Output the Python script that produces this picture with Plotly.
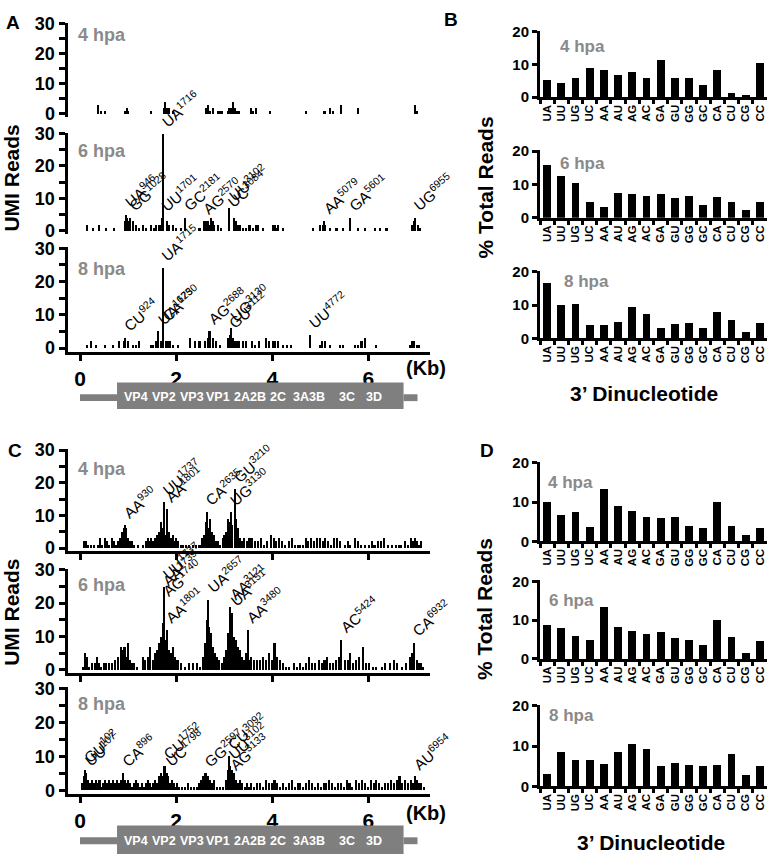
import plotly.graph_objects as go

W, H = 768, 862
FONT = "Liberation Sans, Arial, Helvetica, sans-serif"
GREY = "#8a8a8a"
BOX_GREY = "#7f7f7f"

DINUC = ["UA", "UU", "UG", "UC", "AA", "AU", "AG", "AC",
         "GA", "GU", "GG", "GC", "CA", "CU", "CG", "CC"]

# % total reads per 3' dinucleotide
B_4HPA = [5.4, 4.5, 6.1, 9.1, 8.3, 6.9, 7.7, 6.1, 11.4, 6.1, 6.1, 4.0, 8.3, 1.5, 0.8, 10.6]
B_6HPA = [15.8, 12.5, 10.4, 4.6, 3.3, 7.3, 7.0, 6.6, 7.0, 5.8, 6.6, 3.8, 6.3, 4.8, 2.2, 4.8]
B_8HPA = [16.7, 10.0, 10.3, 4.2, 4.2, 5.1, 9.4, 7.3, 3.2, 4.5, 4.7, 3.2, 7.9, 5.7, 2.1, 4.7]
D_4HPA = [10.0, 6.8, 7.5, 3.7, 13.5, 9.2, 7.9, 6.3, 6.0, 6.3, 3.9, 3.5, 10.2, 3.9, 1.8, 3.5]
D_6HPA = [8.6, 7.8, 5.8, 4.8, 13.4, 8.1, 7.1, 6.3, 6.8, 5.2, 4.9, 3.5, 9.9, 5.6, 1.5, 4.5]
D_8HPA = [3.2, 8.7, 6.6, 6.6, 5.6, 8.5, 10.5, 9.3, 5.0, 5.9, 5.4, 5.0, 5.4, 8.1, 2.8, 5.2]

# UMI reads along the genome: (position kb, reads)
A_4HPA = [
    (0.36, 3), (0.43, 1), (0.52, 1), (0.94, 1), (0.97, 2), (0.99, 1), (1.48, 1),
    (1.74, 2), (1.77, 4), (1.80, 2), (1.84, 2), (1.92, 1), (2.62, 2), (2.65, 3),
    (2.69, 1), (2.76, 2), (2.86, 1), (2.90, 1), (2.95, 1), (3.07, 1), (3.10, 2),
    (3.14, 2), (3.17, 4), (3.21, 2), (3.24, 1), (3.28, 1), (3.31, 1), (3.56, 2),
    (3.59, 1), (3.65, 2), (3.94, 1), (4.69, 1), (5.08, 1), (5.19, 2), (5.26, 1),
    (5.43, 3), (5.78, 2), (6.96, 3), (7.00, 1),
]
A_6HPA = [
    (0.15, 2), (0.27, 1), (0.38, 2), (0.53, 1), (0.71, 1), (0.94, 3), (0.97, 4),
    (1.01, 3), (1.03, 3), (1.09, 3), (1.15, 2), (1.23, 1), (1.30, 2), (1.37, 1),
    (1.47, 2), (1.54, 1), (1.58, 2), (1.63, 2), (1.68, 2), (1.80, 3), (1.85, 2),
    (1.92, 2), (1.99, 1), (2.10, 1), (2.17, 1), (2.48, 1), (2.62, 3), (2.65, 3),
    (2.69, 2), (2.72, 4), (2.76, 3), (2.79, 2), (2.86, 2), (2.93, 1), (3.19, 4),
    (3.24, 3), (3.28, 2), (3.33, 2), (3.38, 1), (3.45, 1), (3.52, 2), (3.59, 1),
    (3.66, 2), (3.69, 2), (3.80, 1), (4.01, 2), (4.05, 2), (4.08, 1), (4.11, 2),
    (4.22, 1), (4.84, 1), (4.99, 2), (5.05, 2), (5.10, 2), (5.19, 1), (5.33, 1),
    (5.47, 1), (5.78, 1), (5.92, 1), (6.13, 1), (6.23, 1), (6.37, 1), (6.90, 2),
    (6.94, 3), (7.02, 2), (7.06, 1),
]
A_8HPA = [
    (0.15, 1), (0.22, 2), (0.33, 1), (0.52, 1), (0.69, 1), (0.80, 2), (0.90, 2),
    (0.99, 2), (1.09, 1), (1.16, 1), (1.23, 2), (1.47, 1), (1.52, 1), (1.58, 2),
    (1.68, 2), (1.78, 2), (1.82, 2), (1.87, 2), (1.92, 1), (2.03, 1), (2.28, 3),
    (2.38, 2), (2.48, 2), (2.60, 2), (2.65, 3), (2.76, 3), (2.83, 2), (2.90, 1),
    (3.07, 3), (3.17, 3), (3.21, 2), (3.26, 2), (3.31, 2), (3.38, 2), (3.45, 2),
    (3.58, 2), (3.63, 1), (3.72, 2), (3.87, 3), (3.92, 2), (4.01, 2), (4.06, 2),
    (4.11, 2), (4.22, 1), (4.30, 1), (4.39, 1), (4.98, 1), (5.03, 2), (5.10, 2),
    (5.19, 1), (5.40, 1), (5.47, 1), (5.71, 1), (5.78, 1), (5.85, 2), (5.92, 3),
    (6.16, 1), (6.85, 1), (6.90, 2), (6.95, 2), (7.00, 1), (7.05, 1),
]
C_4HPA = [
    (0.08, 2), (0.12, 2), (0.16, 1), (0.22, 1), (0.28, 1), (0.36, 1), (0.42, 3),
    (0.46, 1), (0.52, 3), (0.56, 2), (0.60, 1), (0.66, 3), (0.70, 2), (0.74, 1),
    (0.78, 2), (0.82, 3), (0.86, 5), (0.90, 6), (0.96, 6), (1.00, 3), (1.04, 2),
    (1.08, 2), (1.12, 1), (1.20, 1), (1.30, 1), (1.36, 2), (1.40, 3), (1.44, 2),
    (1.48, 3), (1.52, 2), (1.56, 3), (1.60, 4), (1.64, 5), (1.68, 8), (1.72, 6),
    (1.76, 4), (1.84, 5), (1.88, 3), (1.92, 4), (1.96, 2), (2.00, 3), (2.04, 2),
    (2.10, 1), (2.14, 1), (2.20, 1), (2.26, 1), (2.34, 1), (2.40, 1), (2.48, 1),
    (2.54, 3), (2.58, 4), (2.62, 8), (2.66, 6), (2.70, 9), (2.74, 5), (2.78, 4),
    (2.82, 2), (2.86, 2), (2.90, 1), (2.96, 3), (3.00, 4), (3.04, 5), (3.08, 9),
    (3.12, 8), (3.16, 7), (3.24, 9), (3.28, 6), (3.32, 3), (3.36, 2), (3.40, 3),
    (3.46, 2), (3.52, 3), (3.58, 3), (3.64, 2), (3.70, 2), (3.76, 3), (3.82, 1),
    (3.88, 2), (3.96, 4), (4.02, 3), (4.08, 2), (4.14, 3), (4.20, 2), (4.26, 1),
    (4.34, 2), (4.40, 3), (4.46, 1), (4.52, 1), (4.58, 1), (4.64, 1), (4.70, 3),
    (4.74, 2), (4.80, 3), (4.86, 2), (4.92, 3), (4.98, 3), (5.04, 2), (5.10, 3),
    (5.16, 2), (5.22, 1), (5.28, 3), (5.34, 3), (5.40, 2), (5.50, 1), (5.56, 2),
    (5.62, 1), (5.72, 3), (5.78, 2), (5.84, 1), (5.92, 1), (6.00, 1), (6.06, 2),
    (6.12, 1), (6.20, 2), (6.26, 2), (6.32, 3), (6.40, 1), (6.48, 1), (6.56, 1),
    (6.62, 1), (6.68, 1), (6.76, 2), (6.82, 1), (6.88, 3), (6.92, 2), (6.96, 3),
    (7.00, 2), (7.04, 1), (7.08, 2),
]
C_6HPA = [
    (0.06, 1), (0.10, 5), (0.14, 4), (0.18, 1), (0.24, 2), (0.30, 2), (0.34, 4),
    (0.38, 2), (0.44, 1), (0.50, 2), (0.54, 2), (0.60, 2), (0.66, 2), (0.72, 3),
    (0.78, 4), (0.84, 7), (0.88, 6), (0.92, 7), (0.96, 4), (1.00, 8), (1.04, 3),
    (1.08, 2), (1.12, 2), (1.18, 1), (1.30, 4), (1.34, 3), (1.40, 4), (1.46, 7),
    (1.52, 3), (1.56, 5), (1.60, 6), (1.64, 8), (1.68, 10), (1.72, 14), (1.76, 9),
    (1.84, 6), (1.88, 5), (1.92, 7), (1.96, 4), (2.00, 3), (2.04, 3), (2.10, 2),
    (2.18, 1), (2.26, 2), (2.34, 2), (2.42, 2), (2.50, 1), (2.56, 4), (2.60, 8),
    (2.64, 15), (2.68, 13), (2.72, 11), (2.76, 7), (2.80, 5), (2.84, 4), (2.88, 3),
    (2.94, 2), (3.00, 4), (3.04, 6), (3.08, 11), (3.16, 13), (3.20, 10), (3.24, 9),
    (3.28, 7), (3.32, 6), (3.36, 4), (3.40, 3), (3.44, 5), (3.52, 3), (3.56, 4),
    (3.62, 3), (3.68, 3), (3.74, 3), (3.80, 4), (3.86, 3), (3.92, 5), (3.98, 3),
    (4.04, 8), (4.10, 4), (4.16, 3), (4.22, 2), (4.28, 1), (4.34, 1), (4.44, 2),
    (4.50, 1), (4.58, 2), (4.64, 1), (4.70, 2), (4.76, 4), (4.82, 2), (4.88, 2),
    (4.96, 3), (5.02, 2), (5.08, 3), (5.14, 4), (5.20, 2), (5.26, 2), (5.32, 3),
    (5.38, 4), (5.50, 3), (5.56, 3), (5.62, 5), (5.68, 2), (5.74, 3), (5.80, 4),
    (5.88, 7), (5.94, 2), (6.00, 2), (6.08, 1), (6.16, 1), (6.28, 1), (6.34, 2),
    (6.44, 2), (6.52, 3), (6.58, 2), (6.70, 1), (6.78, 2), (6.86, 4), (6.90, 5),
    (7.00, 3), (7.04, 2), (7.08, 2), (7.12, 1),
]
C_8HPA = [
    (0.04, 2), (0.08, 4), (0.12, 5), (0.16, 3), (0.20, 2), (0.24, 3), (0.28, 2),
    (0.32, 3), (0.36, 2), (0.40, 3), (0.44, 1), (0.48, 2), (0.52, 3), (0.56, 2),
    (0.60, 3), (0.64, 2), (0.68, 3), (0.72, 2), (0.76, 3), (0.80, 2), (0.84, 3),
    (0.88, 4), (0.92, 3), (0.96, 2), (1.00, 3), (1.04, 2), (1.08, 1), (1.12, 2),
    (1.16, 3), (1.20, 2), (1.24, 1), (1.28, 2), (1.32, 1), (1.36, 2), (1.40, 3),
    (1.44, 2), (1.48, 1), (1.52, 2), (1.56, 3), (1.60, 2), (1.64, 4), (1.68, 5),
    (1.72, 4), (1.78, 3), (1.82, 4), (1.86, 2), (1.90, 3), (1.94, 2), (1.98, 1),
    (2.02, 2), (2.06, 1), (2.12, 1), (2.18, 1), (2.24, 2), (2.30, 1), (2.36, 1),
    (2.42, 1), (2.48, 2), (2.52, 3), (2.56, 4), (2.62, 5), (2.66, 4), (2.70, 3),
    (2.74, 2), (2.78, 3), (2.84, 1), (2.90, 1), (2.96, 1), (3.04, 3), (3.08, 6),
    (3.12, 7), (3.16, 6), (3.20, 5), (3.24, 3), (3.28, 2), (3.32, 3), (3.36, 2),
    (3.42, 1), (3.46, 2), (3.52, 1), (3.56, 2), (3.62, 1), (3.68, 2), (3.74, 2),
    (3.80, 1), (3.86, 3), (3.92, 2), (3.98, 2), (4.04, 3), (4.10, 2), (4.16, 1),
    (4.22, 2), (4.28, 1), (4.34, 2), (4.40, 3), (4.46, 1), (4.52, 2), (4.58, 2),
    (4.64, 1), (4.70, 2), (4.76, 3), (4.82, 2), (4.88, 1), (4.94, 2), (5.00, 1),
    (5.06, 2), (5.12, 2), (5.18, 3), (5.24, 2), (5.30, 1), (5.36, 2), (5.42, 2),
    (5.48, 1), (5.54, 3), (5.60, 2), (5.66, 1), (5.74, 3), (5.80, 2), (5.86, 3),
    (5.92, 2), (5.98, 1), (6.04, 3), (6.10, 2), (6.16, 3), (6.22, 2), (6.28, 1),
    (6.34, 2), (6.40, 2), (6.46, 3), (6.52, 2), (6.58, 3), (6.64, 4), (6.70, 2),
    (6.76, 3), (6.82, 2), (6.88, 3), (6.92, 2), (7.00, 3), (7.04, 2), (7.08, 2),
    (7.14, 1),
]

# labelled peaks: (3' dinucleotide, nt position, reads)
A_6HPA_PEAKS = [("UA", 946, 5), ("GG", 1028, 4), ("UU", 1701, 4), ("UA", 1716, 30),
                ("GC", 2181, 4), ("AG", 2570, 3), ("UC", 3084, 5), ("UU", 3102, 7),
                ("AA", 5079, 3), ("GA", 5601, 4), ("UG", 6955, 4)]
A_8HPA_PEAKS = [("CU", 924, 3), ("UA", 1625, 5), ("UA", 1715, 24), ("CA", 1730, 6),
                ("AG", 2688, 5), ("GU", 3112, 4), ("UG", 3130, 6), ("UU", 4772, 4)]
C_4HPA_PEAKS = [("AA", 930, 7), ("UU", 1737, 14), ("AA", 1801, 12), ("CA", 2635, 11),
                ("UG", 3130, 11), ("GU", 3210, 18)]
C_6HPA_PEAKS = [("UU", 1737, 25), ("AA", 1739, 23), ("AG", 1740, 20), ("AA", 1801, 12),
                ("UA", 2657, 21), ("AA", 3121, 19), ("UA", 3151, 17), ("AA", 3480, 12),
                ("AC", 5424, 9), ("CA", 6932, 8)]
C_8HPA_PEAKS = [("GU", 102, 6), ("UU", 107, 5), ("CA", 896, 5), ("CU", 1752, 7),
                ("UC", 1798, 5), ("GG", 2597, 5), ("CU", 3092, 10), ("UU", 3102, 7),
                ("AG", 3133, 4), ("AU", 6954, 4)]

GENES = ["VP4", "VP2", "VP3", "VP1", "2A2B", "2C", "3A3B", "3C", "3D"]
GENE_MID_KB = [1.17, 1.75, 2.32, 2.88, 3.54, 4.11, 4.76, 5.55, 6.12]
ORF_START_KB, ORF_END_KB, GENOME_END_KB = 0.77, 6.73, 7.02


def px(x):
    return x / W


def py(y):
    return 1 - y / H


def ydom(top_px, zero_px, top_val, lo, hi):
    ppu = (zero_px - top_px) / top_val
    return [py(zero_px - lo * ppu), py(top_px - (hi - top_val) * ppu)]


def bold(size, color="black"):
    return dict(family=FONT, size=size, color=color, weight="bold")


def axname(i):
    return "" if i == 1 else str(i)


fig = go.Figure()
layout = {}
ann = []
shapes = []

# data, peaks, hpa, y of 30, y of 0, x axis shown, x tick labels, hpa y
genome_rows = [
    (A_4HPA, [], "4 hpa", 15, 107, False, False, 27),
    (A_6HPA, A_6HPA_PEAKS, "6 hpa", 127, 226, False, False, 145),
    (A_8HPA, A_8HPA_PEAKS, "8 hpa", 244, 346, True, True, 265),
    (C_4HPA, C_4HPA_PEAKS, "4 hpa", 450, 550, True, False, 469),
    (C_6HPA, C_6HPA_PEAKS, "6 hpa", 572, 674, True, False, 588),
    (C_8HPA, C_8HPA_PEAKS, "8 hpa", 693, 797, True, True, 709),
]

for i, (data, peaks, hpa, y30, y0, xline, xlabels, hpa_y) in enumerate(genome_rows, start=1):
    a = axname(i)
    xs = [d[0] for d in data] + [p[1] / 1000 for p in peaks]
    ys = [d[1] for d in data] + [p[2] for p in peaks]
    fig.add_trace(go.Bar(x=xs, y=ys, width=0.032, marker=dict(color="black", line_width=0),
                         xaxis="x" + a, yaxis="y" + a, hoverinfo="x+y"))
    for name, nt, reads in peaks:
        ann.append(dict(x=nt / 1000, y=reads, xref="x" + a, yref="y" + a,
                        text=f"{name}<sup>{nt}</sup>", showarrow=False,
                        xanchor="left", yanchor="bottom", textangle=-40,
                        xshift=-8, yshift=1,
                        font=dict(family=FONT, size=15, color="black")))
    layout["xaxis" + a] = dict(
        domain=[px(67.5), px(430)], range=[-0.26, 7.28], anchor="y" + a,
        visible=xline, showline=True, linewidth=3, linecolor="black",
        ticks="outside", ticklen=6, tickwidth=2.5, tickcolor="black",
        tickmode="array", tickvals=[0, 2, 4, 6], showticklabels=xlabels,
        tickfont=bold(21), showgrid=False, zeroline=False, fixedrange=True)
    layout["yaxis" + a] = dict(
        domain=ydom(y30, y0, 30, -1, 30.3), range=[-1, 30.3], anchor="x" + a,
        showline=True, linewidth=3, linecolor="black",
        ticks="outside", ticklen=6, tickwidth=2.5, tickcolor="black",
        tickmode="linear", tick0=0, dtick=10, tickfont=bold(18),
        minor=dict(ticks="outside", ticklen=6, tickwidth=2.5, tickcolor="black",
                   tick0=0, dtick=5),
        showgrid=False, zeroline=False, fixedrange=True)
    ann.append(dict(x=px(76), y=py(hpa_y), xref="paper", yref="paper", text=hpa,
                    showarrow=False, xanchor="left", yanchor="middle", font=bold(18, GREY)))

# genome maps under panels A and C
for ax, box_top, box_bot, line_top, line_bot, text_y in [("x3", 381, 408, 393, 400, 396),
                                                         ("x6", 833, 862, 845, 852, 849)]:
    shapes.append(dict(type="rect", xref=ax, yref="paper", x0=ORF_START_KB, x1=ORF_END_KB,
                       y0=py(box_bot), y1=py(box_top), fillcolor=BOX_GREY, line_width=0))
    shapes.append(dict(type="rect", xref=ax, yref="paper", x0=0, x1=ORF_START_KB,
                       y0=py(line_bot), y1=py(line_top), fillcolor=BOX_GREY, line_width=0))
    shapes.append(dict(type="rect", xref=ax, yref="paper", x0=ORF_END_KB, x1=GENOME_END_KB,
                       y0=py(line_bot), y1=py(line_top), fillcolor=BOX_GREY, line_width=0))
    for g, mid in zip(GENES, GENE_MID_KB):
        ann.append(dict(x=mid, y=py(text_y), xref=ax, yref="paper", text=g, showarrow=False,
                        xanchor="center", yanchor="middle", font=bold(12.5, "white")))

# dinucleotide bar panels B and D
bar_rows = [
    (B_4HPA, "4 hpa", 23, 90, 38, 558),
    (B_6HPA, "6 hpa", 145, 213, 158, 558),
    (B_8HPA, "8 hpa", 268, 336, 278, 562),
    (D_4HPA, "4 hpa", 463, 543, 483, 546),
    (D_6HPA, "6 hpa", 584, 663, 603, 547),
    (D_8HPA, "8 hpa", 711, 793, 721, 547),
]
for j, (vals, hpa, y20, y0, hpa_y, hpa_x) in enumerate(bar_rows, start=7):
    a = axname(j)
    fig.add_trace(go.Bar(x=DINUC, y=vals, width=0.55, marker=dict(color="black", line_width=0),
                         xaxis="x" + a, yaxis="y" + a))
    layout["xaxis" + a] = dict(
        domain=[px(540), px(767)], type="category", categoryorder="array",
        categoryarray=DINUC, range=[-0.5, 15.5], anchor="y" + a,
        showline=True, linewidth=3, linecolor="black",
        ticks="outside", tickson="boundaries", ticklen=4, tickwidth=2.5, tickcolor="black",
        tickangle=-90, tickfont=bold(11.5), showgrid=False, zeroline=False, fixedrange=True)
    layout["yaxis" + a] = dict(
        domain=ydom(y20, y0, 20, 0, 20.3), range=[0, 20.3], anchor="x" + a,
        showline=True, linewidth=3, linecolor="black",
        ticks="outside", ticklen=5, tickwidth=2.5, tickcolor="black",
        tickmode="array", tickvals=[0, 10, 20], tickfont=bold(15),
        showgrid=False, zeroline=False, fixedrange=True)
    ann.append(dict(x=px(hpa_x), y=py(hpa_y), xref="paper", yref="paper", text=hpa,
                    showarrow=False, xanchor="left", yanchor="middle", font=bold(17, GREY)))

# panel letters and axis titles
for letter, x, y in [("A", 4, 14), ("B", 442, 11), ("C", 6, 450), ("D", 478, 450)]:
    ann.append(dict(x=px(x), y=py(y), xref="paper", yref="paper", text=letter, showarrow=False,
                    xanchor="left", yanchor="middle", font=bold(19)))
for text, x, y, angle, size in [
    ("UMI Reads", 12, 173, -90, 21), ("UMI Reads", 12, 616, -90, 21),
    ("% Total Reads", 485, 182, -90, 21), ("% Total Reads", 485, 612, -90, 21),
    ("3\u2019 Dinucleotide", 644, 392, 0, 21), ("3\u2019 Dinucleotide", 651, 850, 0, 21),
]:
    ann.append(dict(x=px(x), y=py(y), xref="paper", yref="paper", text=text, showarrow=False,
                    xanchor="center", yanchor="middle", textangle=angle, font=bold(size)))
for y in [366, 820]:
    ann.append(dict(x=px(404), y=py(y), xref="paper", yref="paper", text="(Kb)", showarrow=False,
                    xanchor="left", yanchor="middle", font=bold(20)))

fig.update_layout(
    width=W, height=H, margin=dict(l=0, r=0, t=0, b=0),
    paper_bgcolor="white", plot_bgcolor="white",
    showlegend=False, bargap=0, annotations=ann, shapes=shapes,
    font=dict(family=FONT, color="black"),
    **layout,
)

# the page body has a default 8px margin; drop it so the figure fills the window
fig.write_html("out.html", config={"displayModeBar": False},
               post_script="document.body.style.margin = '0';")
